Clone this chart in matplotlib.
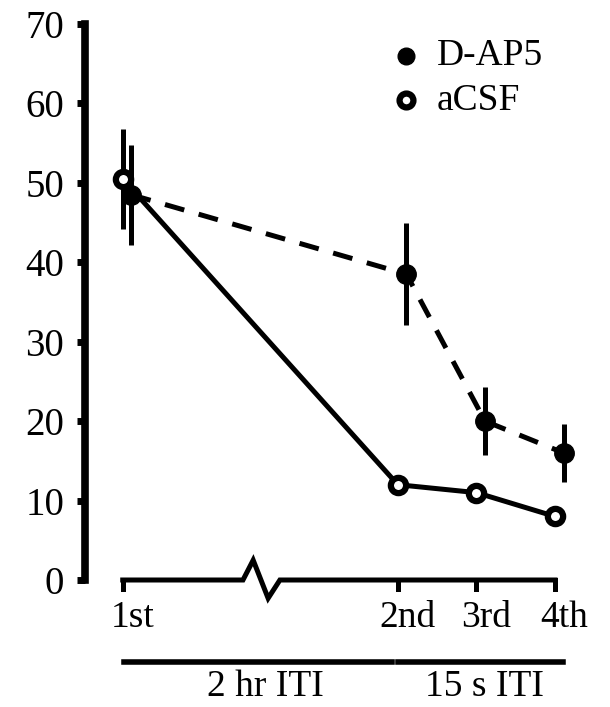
import matplotlib.pyplot as plt
from matplotlib.lines import Line2D

plt.rcParams['font.family'] = ['Liberation Serif', 'DejaVu Serif']

# --- données ---
trials = ["1st", "2nd", "3rd", "4th"]
trial_pos = [0.0, 3.5, 4.5, 5.5]

dap5_mean = [48.5, 38.5, 20.0, 16.0]
dap5_err = [6.3, 6.4, 4.3, 3.6]
acsf_mean = [50.5, 12.0, 11.0, 8.0]
acsf_err = [6.3, 0.0, 0.0, 0.0]

groups = ["2 hr ITI", "15 s ITI"]

W, H = 610, 707
fig = plt.figure(figsize=(W / 100, H / 100), dpi=100)
ax = fig.add_axes([85 / W, (H - 580) / H, 1 - 85 / W, (580 - 24) / H])

# léger décalage horizontal entre les deux groupes
xd = [p + 0.11 for p in trial_pos]
xa = [p + 0.0 for p in trial_pos]

ax.errorbar(xd, dap5_mean, yerr=dap5_err, fmt="o", color="black", ecolor="black",
            elinewidth=3.6, capsize=0, markersize=14, ls=(0, (4, 3)), lw=3.6, zorder=3)
ax.errorbar(xa, acsf_mean, yerr=acsf_err, fmt="o", color="black", ecolor="black",
            elinewidth=3.6, capsize=0, markersize=11, mfc="white", mew=4.5,
            ls="-", lw=3.6, zorder=4)

ax.set_xlim(-0.48, 6.2)
ax.set_ylim(0, 70)
ax.set_yticks(range(0, 71, 10))
ax.tick_params(axis="y", length=6, width=5, direction="out", labelsize=28, pad=9)
ax.set_xticks([])
for s in ["top", "right", "bottom"]:
    ax.spines[s].set_visible(False)
ax.spines["left"].set_linewidth(5.5)
ax.spines["left"].set_bounds(0, 70)

# axe x dessiné à la main avec la coupure
yb = 0.0
zx = [trial_pos[0], 1.53, 1.66, 1.85, 2.0, trial_pos[-1]]
zy = [yb, yb, 2.5, -2.3, yb, yb]
ax.add_line(Line2D(zx, zy, color="black", lw=3.6, clip_on=False,
                   solid_joinstyle="miter"))
for p, lab in zip(trial_pos, trials):
    ax.add_line(Line2D([p, p], [yb, -1.1], color="black", lw=3.6, clip_on=False))
    ax.text(p + 0.12, -2.6, lab, ha="center", va="top", fontsize=27, clip_on=False)

# barres des groupes
ax.add_line(Line2D([0.02, 3.42], [-10.3, -10.3], color="black", lw=4, clip_on=False))
ax.add_line(Line2D([3.5, 5.6], [-10.3, -10.3], color="black", lw=4, clip_on=False))
ax.text(1.82, -14.6, groups[0], ha="center", va="baseline", fontsize=27)
ax.text(4.6, -14.6, groups[1], ha="center", va="baseline", fontsize=27)

# légende
ax.plot([3.6], [66.0], "o", color="black", markersize=12)
ax.plot([3.6], [60.4], "o", color="black", markersize=10, mfc="white", mew=4.5)
ax.text(4.0, 66.0, "D-AP5", va="center", fontsize=27)
ax.text(4.0, 60.4, "aCSF", va="center", fontsize=27)

fig.savefig("out.png", dpi=100)
